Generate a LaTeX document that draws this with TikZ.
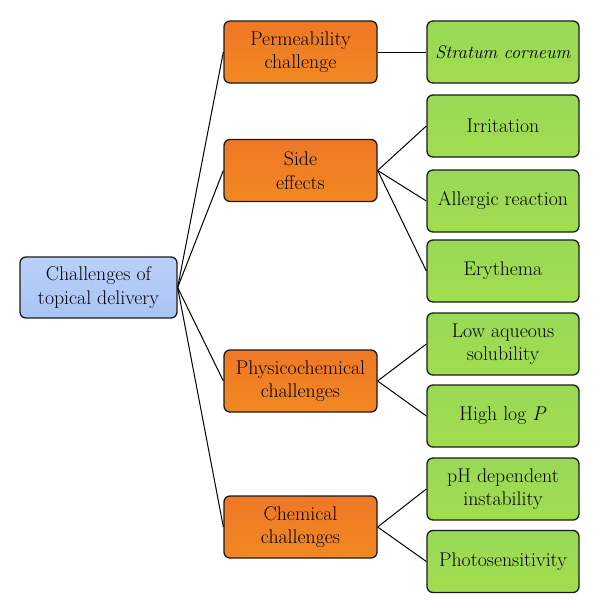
\documentclass[tikz,border=0pt]{standalone}
\usepackage{fontspec}
\usepackage{tikz}
\usetikzlibrary{positioning,calc}

\definecolor{rootfill}{HTML}{A9C4F5}
\definecolor{midfill}{HTML}{EF7826}
\definecolor{leaffill}{HTML}{98D957}
\definecolor{boxline}{HTML}{1A1A1A}

\tikzset{
    box/.style={draw=boxline, line width=1.3pt, rounded corners=6pt, align=center,
        font=\fontsize{19.8}{23.5}\selectfont, inner sep=1pt},
    rootbox/.style={box, top color=rootfill!80!white, bottom color=rootfill, minimum width=157pt, minimum height=61pt},
    midbox/.style={box, top color=midfill, bottom color=midfill!88!yellow, minimum width=153pt, minimum height=62pt},
    leafbox/.style={box, top color=leaffill, bottom color=leaffill!90!yellow, minimum width=152pt, minimum height=62pt},
    link/.style={line width=1pt}
}

\begin{document}
\begin{tikzpicture}[x=1pt, y=-1pt]
    \useasboundingbox (0,0) rectangle (600,614);
    % root
    \node[rootbox] (root) at (98.5,287.5) {Challenges of\\topical delivery};
    % second level
    \node[midbox] (perm) at (300.5,52) {Permeability\\challenge};
    \node[midbox] (side) at (300.5,170.5) {Side\\effects};
    \node[midbox] (phys) at (300.5,381) {Physicochemical\\challenges};
    \node[midbox] (chem) at (300.5,527) {Chemical\\challenges};
    % leaves
    \node[leafbox, font=\fontsize{18.3}{22}\selectfont] (strat) at (503,52) {\textit{Stratum corneum}};
    \node[leafbox] (irr) at (503,126) {Irritation};
    \node[leafbox] (allerg) at (503,201) {Allergic reaction};
    \node[leafbox] (ery) at (503,271) {Erythema};
    \node[leafbox] (low) at (503,344) {Low aqueous\\solubility};
    \node[leafbox] (logp) at (503,416) {High log \textit{P}};
    \node[leafbox] (ph) at (503,489) {pH dependent\\instability};
    \node[leafbox] (photo) at (503,561.5) {Photosensitivity};

    \foreach \m in {perm,side,phys,chem}
        \draw[link] (root.east) -- (\m.west);
    \draw[link] (perm.east) -- (strat.west);
    \foreach \l in {irr,allerg,ery}
        \draw[link] (side.east) -- (\l.west);
    \foreach \l in {low,logp}
        \draw[link] (phys.east) -- (\l.west);
    \foreach \l in {ph,photo}
        \draw[link] (chem.east) -- (\l.west);
\end{tikzpicture}
\end{document}
